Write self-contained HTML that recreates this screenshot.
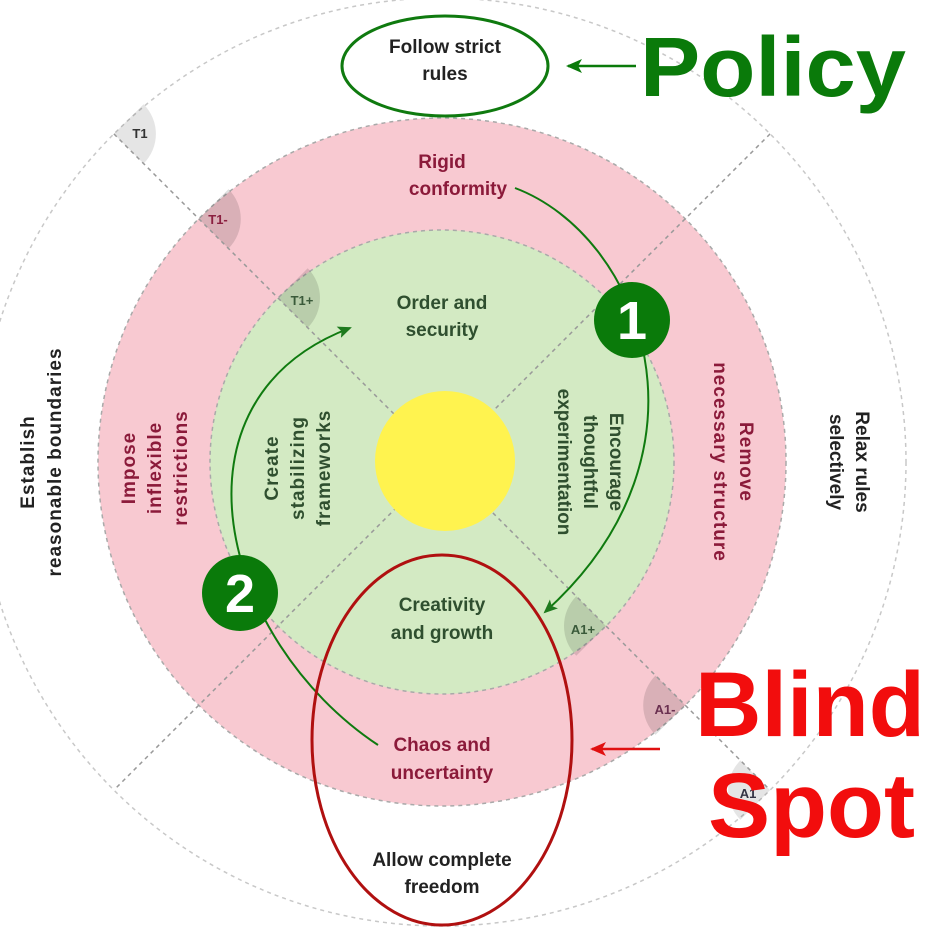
<!DOCTYPE html>
<html><head><meta charset="utf-8"><style>
html,body{margin:0;padding:0;background:#fff;}
svg{display:block;font-family:"Liberation Sans",sans-serif;}
</style></head><body>
<svg width="933" height="930" viewBox="0 0 933 930" xmlns="http://www.w3.org/2000/svg">
<defs>
<marker id="ga" markerWidth="14" markerHeight="12" refX="12" refY="6" orient="auto" markerUnits="userSpaceOnUse"><path d="M0,0 L14,6 L0,12 L3,6 Z" fill="#1e7a1e"/></marker>
<marker id="ga2" markerWidth="16" markerHeight="14" refX="14" refY="7" orient="auto" markerUnits="userSpaceOnUse"><path d="M0,0 L16,7 L0,14 L4,7 Z" fill="#0a7a0a"/></marker>
<marker id="ra" markerWidth="16" markerHeight="14" refX="14" refY="7" orient="auto" markerUnits="userSpaceOnUse"><path d="M0,0 L16,7 L0,14 L4,7 Z" fill="#e01010"/></marker>
</defs>
<circle cx="442" cy="462" r="464" fill="#fff" stroke="#c8c8c8" stroke-width="1.5" stroke-dasharray="4,4"/>
<circle cx="442" cy="462" r="344" fill="#f8c9d1" stroke="#a9a9a9" stroke-width="1.5" stroke-dasharray="4,4"/>
<circle cx="442" cy="462" r="232" fill="#d3eac3" stroke="#a9a9a9" stroke-width="1.5" stroke-dasharray="4,4"/>
<g fill="#000" fill-opacity="0.12">
<path d="M278,298 L307.7,327.7 A42,42 0 0 0 307.7,268.3 Z"/>
<path d="M198.8,218.8 L228.5,248.5 A42,42 0 0 0 228.5,189.1 Z"/>
<path d="M113.9,133.9 L143.6,163.6 A42,42 0 0 0 143.6,104.2 Z" fill-opacity="0.1"/>
<path d="M606,626 L576.3,596.3 A42,42 0 0 0 576.3,655.7 Z"/>
<path d="M685.2,705.2 L655.5,675.5 A42,42 0 0 0 655.5,734.9 Z"/>
<path d="M770.1,790.1 L740.4,760.4 A42,42 0 0 0 740.4,819.8 Z" fill-opacity="0.1"/>
</g>
<g stroke="#999" stroke-width="1.5" stroke-dasharray="4,4">
<line x1="113.9" y1="133.9" x2="770.1" y2="790.1"/>
<line x1="770.1" y1="133.9" x2="113.9" y2="790.1"/>
</g>
<circle cx="445" cy="461" r="70" fill="#fff34f"/>
<g font-weight="bold" font-size="13" text-anchor="middle">
<text x="140" y="138" fill="#333">T1</text>
<text x="218" y="224" fill="#8b2040">T1-</text>
<text x="302" y="305" fill="#3a5a3a">T1+</text>
<text x="583" y="634" fill="#3a5a3a">A1+</text>
<text x="665" y="714" fill="#6a3050">A1-</text>
<text x="748" y="798" fill="#334">A1</text>
</g>
<g font-weight="bold" font-size="19" text-anchor="middle">
<text x="445" y="53" fill="#222">Follow strict</text>
<text x="445" y="80" fill="#222">rules</text>
<text x="442" y="168" fill="#8b1a3a">Rigid</text>
<text x="458" y="195" fill="#8b1a3a">conformity</text>
<text x="442" y="309" fill="#2f4f2f">Order and</text>
<text x="442" y="336" fill="#2f4f2f">security</text>
<text x="442" y="611" fill="#2f4f2f">Creativity</text>
<text x="442" y="639" fill="#2f4f2f">and growth</text>
<text x="442" y="751" fill="#8b1a3a">Chaos and</text>
<text x="442" y="779" fill="#8b1a3a">uncertainty</text>
<text x="442" y="866" fill="#222">Allow complete</text>
<text x="442" y="893" fill="#222">freedom</text>
<g transform="translate(40,462) rotate(-90)" fill="#222" letter-spacing="1">
<text x="0" y="-6">Establish</text><text x="0" y="21">reasonable boundaries</text></g>
<g transform="translate(155,468) rotate(-90)" fill="#8b1a3a" letter-spacing="1">
<text x="0" y="-20">Impose</text><text x="0" y="6">inflexible</text><text x="0" y="32">restrictions</text></g>
<g transform="translate(298,468) rotate(-90)" fill="#2f4f2f" letter-spacing="1">
<text x="0" y="-20">Create</text><text x="0" y="6">stabilizing</text><text x="0" y="32">frameworks</text></g>
<g transform="translate(590,462) rotate(90)" fill="#2f4f2f">
<text x="0" y="-20">Encourage</text><text x="0" y="6">thoughtful</text><text x="0" y="32">experimentation</text></g>
<g transform="translate(734,462) rotate(90)" fill="#8b1a3a" letter-spacing="1">
<text x="0" y="-6">Remove</text><text x="0" y="20">necessary structure</text></g>
<g transform="translate(850,462) rotate(90)" fill="#222">
<text x="0" y="-6">Relax rules</text><text x="0" y="20">selectively</text></g>
</g>
<path d="M515,188 C640,235 725,450 545,612" fill="none" stroke="#0f7a0f" stroke-width="2" marker-end="url(#ga)"/>
<path d="M378,745 C220,640 160,400 350,328" fill="none" stroke="#0f7a0f" stroke-width="2" marker-end="url(#ga)"/>
<ellipse cx="445" cy="66" rx="103" ry="50" fill="none" stroke="#0f7a0f" stroke-width="3"/>
<ellipse cx="442" cy="740" rx="130" ry="185" fill="none" stroke="#b01010" stroke-width="3"/>
<line x1="636" y1="66" x2="568" y2="66" stroke="#0a7a0a" stroke-width="2.5" marker-end="url(#ga2)"/>
<line x1="660" y1="749" x2="592" y2="749" stroke="#e01010" stroke-width="2.5" marker-end="url(#ra)"/>
<circle cx="632" cy="320" r="38" fill="#0a7a0a"/>
<text x="632" y="339" fill="#fff" font-size="54" font-weight="bold" text-anchor="middle">1</text>
<circle cx="240" cy="593" r="38" fill="#0a7a0a"/>
<text x="240" y="612" fill="#fff" font-size="54" font-weight="bold" text-anchor="middle">2</text>
<text x="640" y="96" fill="#0a7a0a" font-size="84" font-weight="bold" textLength="266" lengthAdjust="spacingAndGlyphs">Policy</text>
<text x="695" y="736" fill="#f20d0d" font-size="92" font-weight="bold" textLength="230" lengthAdjust="spacingAndGlyphs">Blind</text>
<text x="708" y="837" fill="#f20d0d" font-size="92" font-weight="bold" textLength="207" lengthAdjust="spacingAndGlyphs">Spot</text>
</svg>
</body></html>
